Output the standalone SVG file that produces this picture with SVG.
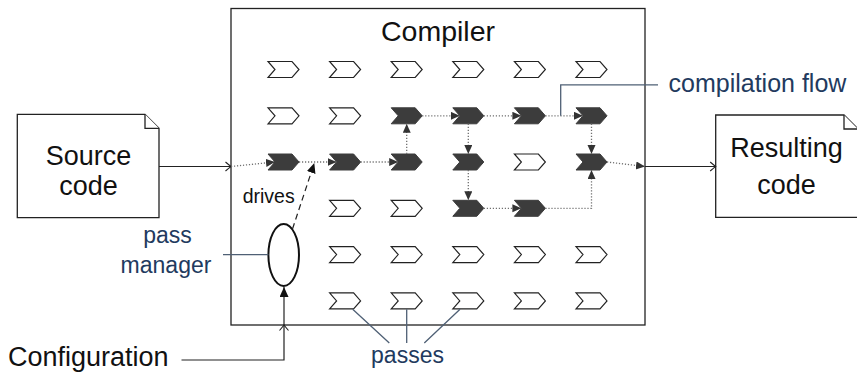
<svg xmlns="http://www.w3.org/2000/svg" xmlns:xlink="http://www.w3.org/1999/xlink" width="857" height="374" viewBox="0 0 857 374">
  <style>
    text { font-family: "Liberation Sans", Arial, sans-serif; }
    .big { font-size: 27px; fill: #111; }
    .title { font-size: 28.5px; fill: #111; }
    .label { font-size: 23px; fill: #223a5e; }
    .small { font-size: 19.5px; fill: #111; }
    .frame { fill: #fff; stroke: #222; stroke-width: 1.3; }
    .doc { fill: #fff; stroke: #222; stroke-width: 1.3; stroke-linejoin: miter; }
    .open { fill: #fff; stroke: #222; stroke-width: 1.15; }
    .on { fill: #3c3c3c; stroke: #3c3c3c; stroke-width: 1; }
    .flow { fill: none; stroke: #707070; stroke-width: 1.3; stroke-dasharray: 1.2 1.8; marker-end: url(#tri); }
    .solid { fill: none; stroke: #222; stroke-width: 1.2; }
    .callout { fill: none; stroke: #4f6075; stroke-width: 1.3; }
  </style>
  <defs>
    <!-- pass shape: notched chevron, origin at left notch line centre -->
    <path id="chev" d="M0,-8 H24 L31,0 L24,8 H0 L7,0 Z"/>
    <marker id="tri" markerUnits="userSpaceOnUse" markerWidth="10" markerHeight="10" refX="9" refY="4" orient="auto">
      <path d="M0,0 L9,4 L0,8 Z" fill="#333"/>
    </marker>
    <marker id="triBlack" markerUnits="userSpaceOnUse" markerWidth="12" markerHeight="10" refX="10" refY="4.5" orient="auto">
      <path d="M0,0 L10,4.5 L0,9 Z" fill="#111"/>
    </marker>
    <marker id="to" markerUnits="userSpaceOnUse" markerWidth="10" markerHeight="12" refX="6" refY="5" orient="auto" overflow="visible">
      <path d="M0.5,0.5 Q4,3.5 6,5 Q4,6.5 0.5,9.5" fill="none" stroke="#222" stroke-width="1.1"/>
    </marker>
  </defs>

  <!-- compiler frame -->
  <g id="compiler">
    <rect class="frame" x="231" y="8.5" width="414" height="316.5"/>
    <text class="title" x="438" y="41" text-anchor="middle">Compiler</text>
  </g>

  <!-- input and output documents -->
  <g id="source">
    <path class="doc" d="M17.3,114.3 H145 L159,128.3 V217.7 H17.3 Z"/>
    <path class="doc" d="M145,114.3 V128.3 H159" fill="none"/>
    <text class="big" x="88.5" y="164.5" text-anchor="middle">Source</text>
    <text class="big" x="88.5" y="195" text-anchor="middle">code</text>
  </g>
  <g id="result">
    <path class="doc" d="M715.7,115 H844 L858,129 V217.4 H715.7 Z"/>
    <path class="doc" d="M844,115 V129 H858" fill="none"/>
    <text class="big" x="786.5" y="157" text-anchor="middle">Resulting</text>
    <text class="big" x="786.5" y="194" text-anchor="middle">code</text>
  </g>

  <g id="configuration">
    <text class="big" x="8" y="366">Configuration</text>
  </g>

  <g id="pass-manager">
    <ellipse cx="283.7" cy="255" rx="15.3" ry="31" fill="#fff" stroke="#111" stroke-width="2"/>
  </g>

  <!-- passes: rows y = 69.5 .. 300.9, columns x = 268 .. 576 -->
  <g id="pass-r1c1"><use xlink:href="#chev" class="open" x="268" y="69.5"/></g>
  <g id="pass-r1c2"><use xlink:href="#chev" class="open" x="329.6" y="69.5"/></g>
  <g id="pass-r1c3"><use xlink:href="#chev" class="open" x="391.2" y="69.5"/></g>
  <g id="pass-r1c4"><use xlink:href="#chev" class="open" x="452.8" y="69.5"/></g>
  <g id="pass-r1c5"><use xlink:href="#chev" class="open" x="514.4" y="69.5"/></g>
  <g id="pass-r1c6"><use xlink:href="#chev" class="open" x="576" y="69.5"/></g>

  <g id="pass-r2c1"><use xlink:href="#chev" class="open" x="268" y="115.8"/></g>
  <g id="pass-r2c2"><use xlink:href="#chev" class="open" x="329.6" y="115.8"/></g>
  <g id="pass-r2c3"><use xlink:href="#chev" class="on" x="391.2" y="115.8"/></g>
  <g id="pass-r2c4"><use xlink:href="#chev" class="on" x="452.8" y="115.8"/></g>
  <g id="pass-r2c5"><use xlink:href="#chev" class="on" x="514.4" y="115.8"/></g>
  <g id="pass-r2c6"><use xlink:href="#chev" class="on" x="576" y="115.8"/></g>

  <g id="pass-r3c1"><use xlink:href="#chev" class="on" x="268" y="162"/></g>
  <g id="pass-r3c2"><use xlink:href="#chev" class="on" x="329.6" y="162"/></g>
  <g id="pass-r3c3"><use xlink:href="#chev" class="on" x="391.2" y="162"/></g>
  <g id="pass-r3c4"><use xlink:href="#chev" class="on" x="452.8" y="162"/></g>
  <g id="pass-r3c5"><use xlink:href="#chev" class="open" x="514.4" y="162"/></g>
  <g id="pass-r3c6"><use xlink:href="#chev" class="on" x="576" y="162"/></g>

  <g id="pass-r4c2"><use xlink:href="#chev" class="open" x="329.6" y="208.3"/></g>
  <g id="pass-r4c3"><use xlink:href="#chev" class="open" x="391.2" y="208.3"/></g>
  <g id="pass-r4c4"><use xlink:href="#chev" class="on" x="452.8" y="208.3"/></g>
  <g id="pass-r4c5"><use xlink:href="#chev" class="on" x="514.4" y="208.3"/></g>

  <g id="pass-r5c2"><use xlink:href="#chev" class="open" x="329.6" y="254.6"/></g>
  <g id="pass-r5c3"><use xlink:href="#chev" class="open" x="391.2" y="254.6"/></g>
  <g id="pass-r5c4"><use xlink:href="#chev" class="open" x="452.8" y="254.6"/></g>
  <g id="pass-r5c5"><use xlink:href="#chev" class="open" x="514.4" y="254.6"/></g>
  <g id="pass-r5c6"><use xlink:href="#chev" class="open" x="576" y="254.6"/></g>

  <g id="pass-r6c2"><use xlink:href="#chev" class="open" x="329.6" y="300.9"/></g>
  <g id="pass-r6c3"><use xlink:href="#chev" class="open" x="391.2" y="300.9"/></g>
  <g id="pass-r6c4"><use xlink:href="#chev" class="open" x="452.8" y="300.9"/></g>
  <g id="pass-r6c5"><use xlink:href="#chev" class="open" x="514.4" y="300.9"/></g>
  <g id="pass-r6c6"><use xlink:href="#chev" class="open" x="576" y="300.9"/></g>

  <!-- connectors -->
  <g id="connectors">
    <!-- code in and out of the compiler -->
    <path class="solid" d="M159,166.5 H231" marker-end="url(#to)"/>
    <path class="solid" d="M645,166.5 H715.7" marker-end="url(#to)"/>
    <!-- configuration feeds the pass manager -->
    <path class="solid" d="M181.5,360 H284 V325" marker-end="url(#to)"/>
    <path class="solid" d="M284,325 V287" marker-end="url(#triBlack)"/>
    <!-- pass manager drives the pipeline -->
    <path class="solid" d="M292.5,229 L314.3,163" stroke-dasharray="6 4" marker-end="url(#triBlack)"/>

    <!-- compilation flow through the selected passes -->
    <path class="flow" d="M231,166.5 L275,162"/>
    <path class="flow" d="M299,162 H336.6"/>
    <path class="flow" d="M360.6,162 H398.2"/>
    <path class="flow" d="M406.7,154 V123.8"/>
    <path class="flow" d="M422.2,115.8 H459.8"/>
    <path class="flow" d="M483.8,115.8 H521.4"/>
    <path class="flow" d="M545.4,115.8 H583"/>
    <path class="flow" d="M468.3,123.8 V154"/>
    <path class="flow" d="M468.3,170 V200.3"/>
    <path class="flow" d="M483.8,208.3 H521.4"/>
    <path class="flow" d="M545.4,208.3 H591.5 V170"/>
    <path class="flow" d="M591.5,123.8 V154"/>
    <path class="flow" d="M607,162 L645,166.5"/>

    <!-- annotations -->
    <path class="callout" d="M560.7,115.8 V84.8 H658"/>
    <path class="callout" d="M223,254.6 H268.4"/>
    <path class="callout" d="M389.3,343 L352.7,309.3 M406.7,343 V309.3 M424.3,343 L460,309.3"/>
  </g>

  <g id="labels">
    <text class="small" x="242.7" y="202.5">drives</text>
    <text class="label" x="668.5" y="91.5" style="font-size:25px">compilation flow</text>
    <text class="label" x="167.5" y="243" text-anchor="middle">pass</text>
    <text class="label" x="166" y="273" text-anchor="middle">manager</text>
    <text class="label" x="407.5" y="363" text-anchor="middle">passes</text>
  </g>
</svg>
